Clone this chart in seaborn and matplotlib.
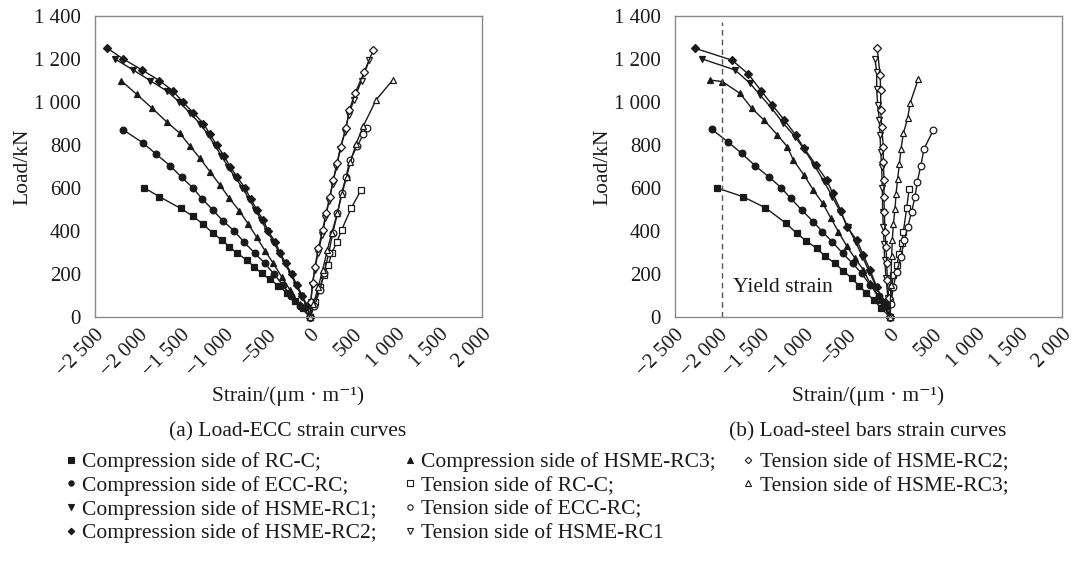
import matplotlib
matplotlib.use("Agg")
import matplotlib.pyplot as plt
from matplotlib.lines import Line2D
import seaborn as sns

# ---------------- data: (a) ECC strain ----------------
ecc_c_rcc_x = [-1926, -1752, -1504, -1364, -1248, -1124, -1027, -938, -845, -736, -651, -562, -465, -368, -264, -170, -80, 0]
ecc_c_rcc_y = [600, 560, 505, 470, 433, 389, 358, 327, 296, 265, 234, 203, 175, 146, 110, 75, 40, 0]
ecc_c_ecc_x = [-2171, -1946, -1791, -1628, -1492, -1364, -1252, -1131, -1015, -884, -764, -640, -523, -419, -317, -220, -120, 0]
ecc_c_ecc_y = [870, 811, 758, 704, 650, 601, 549, 498, 448, 401, 347, 296, 249, 200, 149, 100, 50, 0]
ecc_c_rc1_x = [-2267, -2060, -1860, -1660, -1520, -1400, -1280, -1190, -1110, -1030, -955, -870, -785, -710, -640, -565, -500, -425, -360, -295, -225, -165, -100, -40, 0]
ecc_c_rc1_y = [1200, 1150, 1100, 1050, 1000, 950, 900, 850, 800, 750, 700, 650, 600, 550, 500, 450, 400, 350, 300, 250, 200, 150, 100, 50, 0]
ecc_c_rc2_x = [-2357, -2171, -1957, -1752, -1589, -1480, -1357, -1240, -1163, -1085, -1000, -930, -845, -756, -690, -620, -543, -485, -407, -349, -283, -213, -155, -90, -30, 0]
ecc_c_rc2_y = [1250, 1200, 1150, 1100, 1050, 1000, 950, 900, 850, 800, 750, 700, 650, 600, 550, 500, 450, 400, 350, 300, 250, 200, 150, 100, 50, 0]
ecc_c_rc3_x = [-2198, -2016, -1833, -1667, -1512, -1395, -1279, -1163, -1047, -938, -822, -717, -620, -523, -426, -329, -233, -120, 0]
ecc_c_rc3_y = [1100, 1036, 970, 908, 854, 795, 738, 676, 614, 552, 494, 432, 371, 308, 249, 187, 126, 60, 0]

ecc_t_rcc_x = [593, 477, 368, 310, 252, 213, 163, 116, 60, 0]
ecc_t_rcc_y = [590, 505, 405, 347, 296, 242, 195, 141, 70, 0]
ecc_t_ecc_x = [667, 620, 550, 465, 419, 368, 318, 264, 217, 163, 116, 50, 0]
ecc_t_ecc_y = [877, 850, 795, 730, 653, 575, 482, 389, 296, 203, 126, 50, 0]
ecc_t_rc1_x = [690, 600, 510, 450, 405, 350, 305, 262, 220, 180, 140, 95, 55, 28, 8, 0]
ecc_t_rc1_y = [1195, 1100, 1010, 940, 860, 780, 700, 620, 540, 460, 380, 300, 220, 150, 70, 0]
ecc_t_rc2_x = [736, 632, 523, 457, 419, 357, 318, 271, 233, 186, 147, 97, 58, 31, 10, 0]
ecc_t_rc2_y = [1242, 1141, 1040, 963, 877, 792, 714, 637, 560, 482, 405, 319, 234, 157, 70, 0]
ecc_t_rc3_x = [961, 767, 620, 535, 470, 426, 370, 318, 252, 202, 147, 97, 40, 0]
ecc_t_rc3_y = [1102, 1009, 888, 805, 720, 653, 570, 482, 389, 312, 219, 141, 60, 0]

# ---------------- data: (b) steel bar strain ----------------
stl_c_rcc_x = [-2008, -1713, -1453, -1209, -1085, -977, -852, -756, -640, -543, -445, -357, -279, -190, -100, 0]
stl_c_rcc_y = [600, 560, 509, 436, 389, 355, 319, 284, 249, 215, 180, 144, 113, 80, 40, 0]
stl_c_ecc_x = [-2073, -1887, -1724, -1570, -1403, -1267, -1155, -1027, -892, -787, -671, -550, -434, -329, -233, -130, -50, 0]
stl_c_ecc_y = [873, 815, 761, 704, 650, 602, 552, 498, 443, 397, 350, 296, 249, 203, 149, 100, 50, 0]
stl_c_rc1_x = [-2182, -1802, -1628, -1512, -1376, -1241, -1105, -990, -880, -770, -670, -580, -490, -400, -320, -240, -160, -80, 0]
stl_c_rc1_y = [1200, 1149, 1087, 1033, 971, 901, 839, 775, 705, 632, 560, 490, 420, 350, 280, 210, 140, 70, 0]
stl_c_rc2_x = [-2267, -1834, -1648, -1500, -1369, -1229, -1097, -1000, -860, -736, -666, -570, -503, -387, -310, -233, -155, -80, 0]
stl_c_rc2_y = [1250, 1194, 1130, 1053, 986, 916, 847, 785, 707, 637, 575, 494, 420, 358, 288, 219, 141, 70, 0]
stl_c_rc3_x = [-2093, -1950, -1744, -1608, -1465, -1310, -1194, -1124, -1000, -892, -783, -686, -601, -503, -407, -310, -233, -120, 0]
stl_c_rc3_y = [1102, 1095, 1040, 971, 916, 847, 792, 730, 660, 591, 529, 459, 397, 330, 273, 219, 157, 80, 0]

stl_t_rcc_x = [221, 194, 155, 136, 109, 78, 39, 19, 5, 0]
stl_t_rcc_y = [594, 505, 397, 346, 293, 242, 195, 141, 70, 0]
stl_t_ecc_x = [504, 395, 357, 318, 291, 252, 205, 167, 128, 78, 39, 10, 0]
stl_t_ecc_y = [870, 781, 702, 630, 560, 490, 417, 358, 280, 211, 141, 60, 0]
stl_t_rc1_x = [-174, -155, -155, -143, -124, -116, -108, -97, -90, -85, -78, -70, -62, -45, -25, 0]
stl_t_rc1_y = [1198, 1141, 1059, 986, 916, 847, 769, 699, 600, 490, 420, 340, 265, 180, 90, 0]
stl_t_rc2_x = [-148, -116, -108, -108, -97, -78, -78, -70, -70, -66, -58, -47, -38, -31, -15, 0]
stl_t_rc2_y = [1250, 1126, 1056, 963, 885, 792, 722, 637, 560, 490, 397, 327, 249, 172, 90, 0]
stl_t_rc3_x = [329, 233, 205, 155, 128, 109, 89, 70, 58, 39, 27, 19, 10, 0]
stl_t_rc3_y = [1107, 994, 924, 854, 781, 712, 642, 571, 501, 431, 358, 284, 150, 0]

yield_strain = -1950

x_ticks = [-2500, -2000, -1500, -1000, -500, 0, 500, 1000, 1500, 2000]
y_ticks = [0, 200, 400, 600, 800, 1000, 1200, 1400]

legend_labels = [
    "Compression side of RC-C;", "Compression side of ECC-RC;",
    "Compression side of HSME-RC1;", "Compression side of HSME-RC2;",
    "Compression side of HSME-RC3;", "Tension side of RC-C;",
    "Tension side of ECC-RC;", "Tension side of HSME-RC1",
    "Tension side of HSME-RC2;", "Tension side of HSME-RC3;",
]
markers = ["s", "o", "v", "D", "^"]

# ---------------- style ----------------
sns.set_theme(style="white")
plt.rcParams["font.family"] = ["Liberation Serif", "DejaVu Serif"]
INK = "#1a1a1a"
SPINE = "#8a8a8a"
FS = 15.5
TFS = 15

fig = plt.figure(figsize=(10.76, 5.64), dpi=100)
axL = fig.add_axes([95 / 1076, 1 - 317 / 564, 387 / 1076, 301 / 564])
axR = fig.add_axes([675 / 1076, 1 - 317 / 564, 387 / 1076, 301 / 564])


def fmt(v):
    s = f"{abs(v):,}".replace(",", " ")
    return ("\u2212" + s) if v < 0 else s


def draw(ax, x, y, marker, filled):
    ms = 4.8 if marker != "D" else 4.2
    sns.lineplot(x=x, y=y, ax=ax, sort=False, estimator=None, color=INK,
                 marker=marker, markersize=ms,
                 markerfacecolor=INK if filled else "white",
                 markeredgecolor=INK, markeredgewidth=0.9,
                 linewidth=1.0, clip_on=False)


comp_L = [(ecc_c_rcc_x, ecc_c_rcc_y), (ecc_c_ecc_x, ecc_c_ecc_y), (ecc_c_rc1_x, ecc_c_rc1_y),
          (ecc_c_rc2_x, ecc_c_rc2_y), (ecc_c_rc3_x, ecc_c_rc3_y)]
tens_L = [(ecc_t_rcc_x, ecc_t_rcc_y), (ecc_t_ecc_x, ecc_t_ecc_y), (ecc_t_rc1_x, ecc_t_rc1_y),
          (ecc_t_rc2_x, ecc_t_rc2_y), (ecc_t_rc3_x, ecc_t_rc3_y)]
comp_R = [(stl_c_rcc_x, stl_c_rcc_y), (stl_c_ecc_x, stl_c_ecc_y), (stl_c_rc1_x, stl_c_rc1_y),
          (stl_c_rc2_x, stl_c_rc2_y), (stl_c_rc3_x, stl_c_rc3_y)]
tens_R = [(stl_t_rcc_x, stl_t_rcc_y), (stl_t_ecc_x, stl_t_ecc_y), (stl_t_rc1_x, stl_t_rc1_y),
          (stl_t_rc2_x, stl_t_rc2_y), (stl_t_rc3_x, stl_t_rc3_y)]

for ax, comp, tens in [(axL, comp_L, tens_L), (axR, comp_R, tens_R)]:
    for (x, y), m in zip(comp, markers):
        draw(ax, x, y, m, True)
    for (x, y), m in zip(tens, markers):
        draw(ax, x, y, m, False)
    ax.set_xlim(-2500, 2000)
    ax.set_ylim(0, 1400)
    ax.set_xticks(x_ticks)
    ax.set_yticks(y_ticks)
    ax.set_xticklabels([fmt(v) for v in x_ticks], rotation=45, ha="right",
                       va="top", rotation_mode="anchor", fontsize=TFS, color=INK)
    ax.set_yticklabels([fmt(v) for v in y_ticks], fontsize=TFS, color=INK)
    ax.tick_params(axis="x", direction="in", length=4, width=1, color=SPINE, pad=6)
    ax.tick_params(axis="y", length=0, pad=10)
    for s in ax.spines.values():
        s.set_color(SPINE)
        s.set_linewidth(1.0)
    ax.set_xlabel("")
    ax.set_ylabel("")
    ax.set_facecolor("white")

# yield strain line
axR.plot([yield_strain, yield_strain], [0, 1370], ls=(0, (4, 3)), color="#555555", lw=1.0)
axR.text(-1826, 135, "Yield strain", fontsize=FS, color=INK, va="center", ha="left")

# axis labels and captions
for cx, ylx, cap in [(288, 23, "(a) Load-ECC strain curves"),
                     (868, 603, "(b) Load-steel bars strain curves")]:
    fig.text(ylx / 1076, 1 - 167 / 564, "Load/kN", rotation=90, ha="center", va="center",
             fontsize=FS, color=INK)
    fig.text(cx / 1076, 1 - 396 / 564, "Strain/(\u03bcm \u00b7 m\u207b\u00b9)",
             ha="center", va="center", fontsize=FS, color=INK)
    fig.text(cx / 1076, 1 - 432 / 564, cap, ha="center", va="center", fontsize=FS, color=INK)

# legend (column-major, 4 rows; two blank slots in last column)
def mk(m, filled):
    return Line2D([], [], ls="none", marker=m, markersize=3.8 if m != "D" else 3.3,
                  markerfacecolor=INK if filled else "white", markeredgecolor=INK,
                  markeredgewidth=0.8)

handles = [mk(m, True) for m in markers] + [mk(m, False) for m in markers]
blank = Line2D([], [], ls="none", marker=None)
handles = handles + [blank, blank]
labels = legend_labels + ["", ""]
leg = fig.legend(handles, labels, ncol=3, loc="upper left",
                 bbox_to_anchor=(66 / 1076, 1 - 452 / 564), frameon=False,
                 fontsize=FS, handlelength=0.45, handletextpad=0.3,
                 columnspacing=1.3, labelspacing=0.17, borderaxespad=0, borderpad=0)
for t in leg.get_texts():
    t.set_color(INK)

fig.savefig("out.png", dpi=100, facecolor="white")
